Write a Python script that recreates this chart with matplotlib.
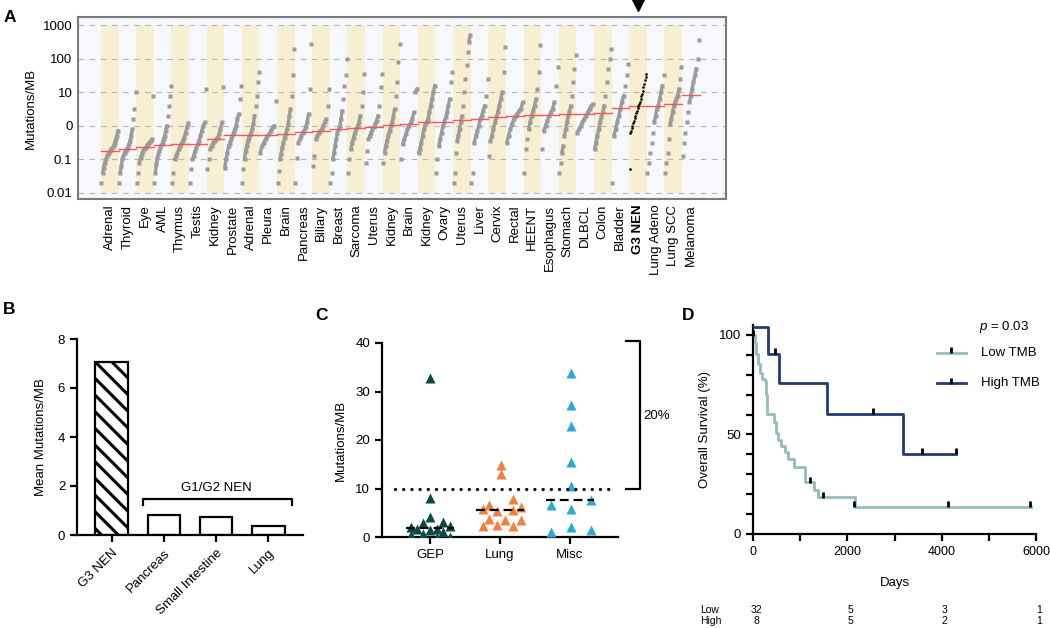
import matplotlib
matplotlib.use("Agg")
import matplotlib.pyplot as plt
import numpy as np
from matplotlib.collections import LineCollection

plt.rcParams["font.family"] = ["Liberation Sans", "DejaVu Sans"]
plt.rcParams["mathtext.fontset"] = "custom"
plt.rcParams["mathtext.it"] = "Liberation Sans:italic"
plt.rcParams["mathtext.rm"] = "Liberation Sans"
plt.rcParams["hatch.linewidth"] = 2.2

# ---------------- data ----------------
# Panel A: tumour mutational burden per tumour type (log10 mutations/MB, sorted)
tumor_types = ["Adrenal", "Thyroid", "Eye", "AML", "Thymus", "Testis", "Kidney", "Prostate",
               "Adrenal", "Pleura", "Brain", "Pancreas", "Biliary", "Breast", "Sarcoma", "Uterus",
               "Kidney", "Brain", "Kidney", "Ovary", "Uterus", "Liver", "Cervix", "Rectal",
               "HEENT", "Esophagus", "Stomach", "DLBCL", "Colon", "Bladder", "G3 NEN",
               "Lung Adeno", "Lung SCC", "Melanoma"]
tmb_log10 = [
    [-1.7, -1.4, -1.25, -1.1, -1.0, -0.9, -0.85, -0.8, -0.75, -0.7, -0.65, -0.6, -0.5, -0.4, -0.3, -0.15],
    [-1.7, -1.4, -1.2, -1.0, -0.9, -0.8, -0.75, -0.7, -0.65, -0.55, -0.45, -0.3, -0.1, 0.2, 0.5, 1.0],
    [-1.7, -1.4, -1.1, -0.95, -0.85, -0.75, -0.7, -0.65, -0.6, -0.55, -0.5, -0.45, -0.4, 0.9],
    [-1.7, -1.4, -1.15, -0.95, -0.85, -0.75, -0.65, -0.58, -0.5, -0.4, -0.3, -0.15, 0.0, 0.3, 0.6, 0.9, 1.2],
    [-1.7, -1.4, -1.0, -0.9, -0.8, -0.7, -0.6, -0.55, -0.45, -0.35, -0.2, -0.05, 0.08],
    [-1.7, -1.3, -1.0, -0.9, -0.75, -0.65, -0.55, -0.45, -0.3, -0.15, 0.0, 0.1, 1.1],
    [-1.3, -1.0, -0.7, -0.6, -0.5, -0.45, -0.4, -0.35, -0.25, -0.1, 0.1, 1.15],
    [-1.25, -1.0, -0.8, -0.6, -0.5, -0.4, -0.3, -0.2, -0.1, 0.0, 0.2, 0.35, 0.8, 1.2],
    [-1.7, -1.3, -1.0, -0.75, -0.6, -0.45, -0.35, -0.28, -0.2, -0.1, 0.05, 0.3, 0.6, 0.9, 1.3, 1.6],
    [-0.8, -0.6, -0.5, -0.4, -0.3, -0.25, -0.15, -0.05, 0.0, 0.75],
    [-1.7, -1.35, -1.0, -0.85, -0.65, -0.5, -0.35, -0.25, -0.1, 0.05, 0.3, 0.5, 0.9, 1.5, 2.3],
    [-1.7, -0.95, -0.5, -0.4, -0.3, -0.2, -0.15, -0.05, 0.1, 0.35, 1.1, 2.45],
    [-1.2, -0.9, -0.4, -0.3, -0.2, -0.15, -0.1, 0.0, 0.1, 0.2, 0.6, 1.1],
    [-1.7, -1.4, -1.0, -0.8, -0.6, -0.4, -0.2, -0.1, 0.0, 0.2, 0.45, 0.8, 1.2, 1.5, 2.0],
    [-1.4, -1.0, -0.7, -0.5, -0.35, -0.2, -0.1, 0.0, 0.1, 0.3, 0.6, 1.0, 1.55],
    [-1.1, -0.75, -0.4, -0.3, -0.2, -0.1, -0.05, 0.05, 0.15, 0.3, 0.6, 1.15, 1.55],
    [-1.1, -0.8, -0.6, -0.45, -0.3, -0.15, 0.0, 0.1, 0.25, 0.5, 0.9, 1.3, 1.9, 2.45],
    [-1.0, -0.55, -0.4, -0.25, -0.1, 0.0, 0.1, 0.2, 0.4, 1.0, 1.1],
    [-0.8, -0.7, -0.5, -0.3, -0.1, 0.05, 0.1, 0.2, 0.4, 0.6, 0.8, 1.0, 1.2],
    [-1.4, -1.0, -0.6, -0.4, -0.2, 0.0, 0.12, 0.25, 0.4, 0.6, 0.8, 1.3, 1.6],
    [-1.7, -1.4, -0.8, -0.45, -0.3, -0.1, 0.1, 0.3, 0.6, 1.0, 1.4, 1.8, 2.2, 2.5, 2.7],
    [-1.7, -1.4, -0.5, -0.3, -0.15, 0.0, 0.2, 0.3, 0.45, 0.6, 0.9, 1.4],
    [-0.9, -0.45, -0.3, -0.1, 0.1, 0.25, 0.4, 0.6, 0.8, 1.0, 1.6, 2.35],
    [-0.5, -0.3, -0.1, 0.05, 0.2, 0.3, 0.35, 0.45, 0.5, 0.7],
    [-1.4, -0.7, -0.4, -0.1, 0.1, 0.3, 0.45, 0.6, 0.8, 1.1, 1.6, 2.4],
    [-0.7, -0.15, 0.0, 0.15, 0.3, 0.4, 0.5, 0.7, 1.2, 1.75],
    [-1.4, -1.1, -0.8, -0.6, -0.3, -0.1, 0.1, 0.3, 0.4, 0.6, 0.9, 1.3, 1.7, 2.1],
    [-0.2, -0.1, 0.0, 0.1, 0.2, 0.3, 0.4, 0.5, 0.6, 0.65],
    [-0.7, -0.5, -0.3, -0.1, 0.1, 0.25, 0.4, 0.6, 0.9, 1.3, 1.7, 2.0, 2.3],
    [-1.7, -0.3, -0.1, 0.1, 0.3, 0.5, 0.7, 0.9, 1.2, 1.5, 1.85],
    [-1.3, -0.22, -0.15, -0.08, 0.0, 0.08, 0.15, 0.22, 0.3, 0.38, 0.45, 0.52, 0.58, 0.65,
     0.72, 0.8, 0.88, 0.95, 1.05, 1.15, 1.25, 1.35, 1.45, 1.55],
    [-1.4, -1.1, -0.8, -0.5, -0.2, 0.1, 0.3, 0.5, 0.6, 0.8, 1.0, 1.2, 1.5],
    [-1.4, -1.1, -0.8, -0.4, 0.05, 0.2, 0.4, 0.6, 0.7, 0.8, 0.9, 1.1, 1.4, 1.75],
    [-0.9, -0.5, -0.2, 0.1, 0.4, 0.7, 0.9, 1.1, 1.3, 1.5, 1.7, 2.0, 2.55],
]
median_log10 = [-0.75, -0.7, -0.62, -0.58, -0.55, -0.55, -0.4, -0.28, -0.28, -0.28, -0.25, -0.17,
                -0.15, -0.1, -0.08, -0.05, 0.02, 0.05, 0.1, 0.12, 0.17, 0.2, 0.25, 0.3,
                0.32, 0.32, 0.35, 0.35, 0.37, 0.52, 0.58, 0.58, 0.65, 0.93]
a_yticks = [0.01, 0.1, 1, 10, 100, 1000]
a_yticklabels = ["0.01", "0.1", "0", "10", "100", "1000"]

# Panel B: mean mutations/MB
b_groups = ["G3 NEN", "Pancreas", "Small Intestine", "Lung"]
b_means = [7.07, 0.80, 0.75, 0.38]

# Panel C: per-sample TMB in G3 NEN by site (x jitter, value)
c_sites = ["GEP", "Lung", "Misc"]
gep_x = [0, 0, 0, -0.28, -0.19, -0.1, 0.0, 0.1, 0.19, 0.28, -0.28, -0.1, 0.1, 0.19, 0.28]
gep_y = [32.8, 8.1, 4.2, 2.1, 1.7, 2.9, 1.4, 1.7, 3.1, 2.2, 0.4, 0.7, 0.1, 1.0, 0.1]
lung_x = [0.01, 0.01, -0.25, -0.16, -0.04, 0.19, 0.19, 0.3, -0.25, -0.16, -0.04, 0.07, 0.19, 0.3]
lung_y = [14.9, 12.9, 5.7, 6.5, 5.3, 7.9, 5.6, 6.2, 2.3, 3.8, 2.4, 3.6, 2.3, 3.6]
misc_x = [0.02, 0.02, 0.02, 0.02, 0.02, 0.02, 0.02, -0.27, -0.27, 0.3, 0.3]
misc_y = [33.8, 27.3, 22.8, 15.5, 10.6, 5.8, 2.1, 6.5, 1.0, 7.6, 1.4]
c_medians = [1.9, 5.6, 7.6]
c_threshold = 10

# Panel D: Kaplan-Meier overall survival
low_t = [0, 35, 70, 112, 140, 190, 246, 267, 295, 442, 491, 540, 597, 688, 737, 877, 1109, 1299, 1369, 2155, 5897]
low_s = [100, 96, 90.5, 85.5, 81, 78, 77, 70, 60.5, 56.5, 50.5, 47, 44, 41, 37.5, 33.5, 26, 22, 18.5, 13.7, 13.7]
low_cens_t = [0, 1215, 1474, 2141, 4128, 5883]
low_cens_s = [100, 26, 18.5, 13.7, 13.7, 13.7]
high_t = [0, 316, 561, 1565, 3180, 4296]
high_s = [103.8, 90.5, 75.8, 60.4, 40.4, 40.4]
high_cens_t = [470, 2548, 3580, 4296]
high_cens_s = [90.5, 60.4, 40.4, 40.4]
risk_days = [0, 2000, 4000, 6000]
risk_low = [32, 5, 3, 1]
risk_high = [8, 5, 2, 1]

W, H = 1050, 628


def box(l, t, r, b):
    return [l / W, 1 - b / H, (r - l) / W, (b - t) / H]


def style_prism(ax):
    for sp in ["top", "right"]:
        ax.spines[sp].set_visible(False)
    for sp in ["left", "bottom"]:
        ax.spines[sp].set_linewidth(1.6)
    ax.tick_params(width=1.6, length=5, labelsize=9.5, direction="out")


fig = plt.figure(figsize=(W / 100, H / 100), dpi=100)

# ---------------- Panel A ----------------
axA = fig.add_axes(box(78, 17, 726, 199))
axA.set_facecolor("#f7f8fc")
axA.set_yscale("log")
n_types = len(tumor_types)
for i in range(0, n_types, 2):
    axA.fill_between([i, i + 1], 0.01, 1000, color="#f6efd2", lw=0, zorder=0)
for yv in a_yticks:
    axA.axhline(yv, color="#b5b5b5", lw=0.8, ls=(0, (5, 5)), zorder=1)
for i, vals in enumerate(tmb_log10):
    v = np.sort(np.array(vals))
    xs = i + (np.arange(len(v)) + 0.5) / len(v)
    ys = 10 ** v
    is_g3 = i == 30
    if is_g3:
        axA.plot(xs, ys, ls="none", marker="o", ms=1.9, mec="none", color="black", zorder=5)
    else:
        # dense middle of each distribution drawn as a continuous band
        segs = [[(xs[k], ys[k]), (xs[k + 1], ys[k + 1])]
                for k in range(len(v) - 1) if v[k + 1] - v[k] < 0.26]
        axA.add_collection(LineCollection(segs, colors="#9b9b9b", linewidths=2.4, zorder=3,
                                          capstyle="round"))
        axA.plot(xs, ys, ls="none", marker="s", ms=2.6, mec="none", color="#9b9b9b", zorder=3)
    axA.plot([i, i + 1], [10 ** median_log10[i]] * 2, color="#f05a5a", lw=1.0, zorder=4)
axA.set_xlim(-1.3, 35.5)
axA.set_ylim(10 ** -2.18, 10 ** 3.24)
axA.set_yticks(a_yticks)
axA.set_yticklabels(a_yticklabels, fontsize=9.5)
axA.yaxis.set_minor_locator(matplotlib.ticker.NullLocator())
axA.set_xticks(np.arange(n_types) + 0.5)
axA.set_xticklabels(tumor_types, rotation=90, fontsize=9.5)
for lbl in axA.get_xticklabels():
    if lbl.get_text() == "G3 NEN":
        lbl.set_fontweight("bold")
axA.tick_params(length=0, pad=4)
for sp in axA.spines.values():
    sp.set_color("#7a7a7a")
    sp.set_linewidth(1.5)
axA.set_ylabel("Mutations/MB", fontsize=9.5, labelpad=4)
axA.plot([30.5], [1.066], marker="v", color="black", ms=9, transform=axA.get_xaxis_transform(),
         clip_on=False)

# ---------------- Panel B ----------------
axB = fig.add_axes(box(77, 339, 303, 535))
xb = np.arange(len(b_groups))
axB.bar(xb[:1], b_means[:1], width=0.63, facecolor="white", edgecolor="black", lw=1.6,
        hatch="\\\\", zorder=2)
axB.bar(xb[1:], b_means[1:], width=0.63, facecolor="white", edgecolor="black", lw=1.6, zorder=2)
axB.set_xlim(-0.67, 3.67)
axB.set_ylim(0, 8)
axB.set_yticks([0, 2, 4, 6, 8])
axB.set_xticks(xb)
axB.set_xticklabels(b_groups, rotation=45, ha="right", rotation_mode="anchor")
style_prism(axB)
axB.set_ylabel("Mean Mutations/MB", fontsize=9.5, labelpad=8)
axB.plot([0.6, 0.6, 3.46, 3.46], [1.22, 1.47, 1.47, 1.22], color="black", lw=1.6, clip_on=False)
axB.text(2.0, 1.68, "G1/G2 NEN", ha="center", va="bottom", fontsize=9.5)

# ---------------- Panel C ----------------
axC = fig.add_axes(box(382, 343, 618, 537))
axC.plot(np.array(gep_x) + 0, gep_y, ls="none", marker="^", ms=6.5, mec="none", color="#0c4a46", zorder=3)
axC.plot(np.array(lung_x) + 1, lung_y, ls="none", marker="^", ms=6.5, mec="none", color="#f2813f", zorder=3)
axC.plot(np.array(misc_x) + 2, misc_y, ls="none", marker="^", ms=6.5, mec="none", color="#2ba8dc", zorder=3)
for k, m in enumerate(c_medians):
    axC.plot([k - 0.34, k + 0.34], [m, m], color="black", lw=1.6, ls=(0, (4, 2.2)), zorder=4)
axC.plot([-0.5, 2.61], [c_threshold, c_threshold], color="black", lw=2.4,
         ls=(0, (0.01, 2.45)), dash_capstyle="round", zorder=4, clip_on=False)
axC.plot([2.81, 3.01, 3.01, 2.81], [c_threshold, c_threshold, 40.4, 40.4], color="black", lw=1.6,
         clip_on=False)
axC.text(3.24, 25, "20%", ha="center", va="center", fontsize=9.5)
axC.set_xlim(-0.69, 2.69)
axC.set_ylim(0, 40)
axC.set_yticks([0, 10, 20, 30, 40])
axC.set_xticks(range(len(c_sites)))
axC.set_xticklabels(c_sites)
style_prism(axC)
axC.set_ylabel("Mutations/MB", fontsize=9.5, labelpad=6)

# ---------------- Panel D ----------------
axD = fig.add_axes(box(753, 325, 1036, 534))
axD.step(low_t, low_s, where="post", color="#96bbbb", lw=2.0, zorder=3)
axD.step(high_t, high_s, where="post", color="#213d6e", lw=2.0, zorder=3)
axD.plot(low_cens_t, np.array(low_cens_s) + 1.2, ls="none", marker="|", ms=4, mew=2, color="black", zorder=4)
axD.plot(high_cens_t, np.array(high_cens_s) + 1.2, ls="none", marker="|", ms=4, mew=2, color="black", zorder=4)
axD.set_xlim(0, 6000)
axD.set_ylim(0, 105)
axD.set_xticks([0, 2000, 4000, 6000])
axD.set_xticks([1000, 3000, 5000], minor=True)
axD.set_yticks([0, 50, 100])
axD.set_yticks([10, 20, 30, 40, 60, 70, 80, 90], minor=True)
style_prism(axD)
axD.tick_params(axis="x", labelsize=9)
axD.tick_params(which="minor", width=1.6, length=5)
axD.set_xlabel("Days", fontsize=9.5, labelpad=14)
axD.set_ylabel("Overall Survival (%)", fontsize=9.5, labelpad=6)

leg_y = [0.866, 0.722]
for yy, col, name in zip(leg_y, ["#96bbbb", "#213d6e"], ["Low TMB", "High TMB"]):
    axD.plot([0.649, 0.754], [yy, yy], color=col, lw=2.0, transform=axD.transAxes, clip_on=False)
    axD.plot([0.70], [yy + 0.012], marker="|", ms=4, mew=2, color="black",
             transform=axD.transAxes, clip_on=False)
    axD.text(0.805, yy, name, transform=axD.transAxes, ha="left", va="center", fontsize=9.5)
axD.text(0.80, 0.99, r"$p$ = 0.03", transform=axD.transAxes, ha="left", va="center", fontsize=9.5)

for row, name, vals in [(610, "Low", risk_low), (621, "High", risk_high)]:
    fy = 1 - row / H
    fig.text(700 / W, fy, name, ha="left", va="center", fontsize=7.5)
    for d, v in zip(risk_days, vals):
        xf = fig.transFigure.inverted().transform(axD.transData.transform((d, 0)))[0]
        fig.text(xf + 0.003, fy, str(v), ha="center", va="center", fontsize=7.5)

# panel letters
for letter, px, py in [("A", 10, 18), ("B", 9, 310), ("C", 322, 315), ("D", 688, 315)]:
    fig.text(px / W, 1 - py / H, letter, fontsize=12.5, fontweight="bold", ha="center", va="center")

fig.savefig("out.png", dpi=100)
